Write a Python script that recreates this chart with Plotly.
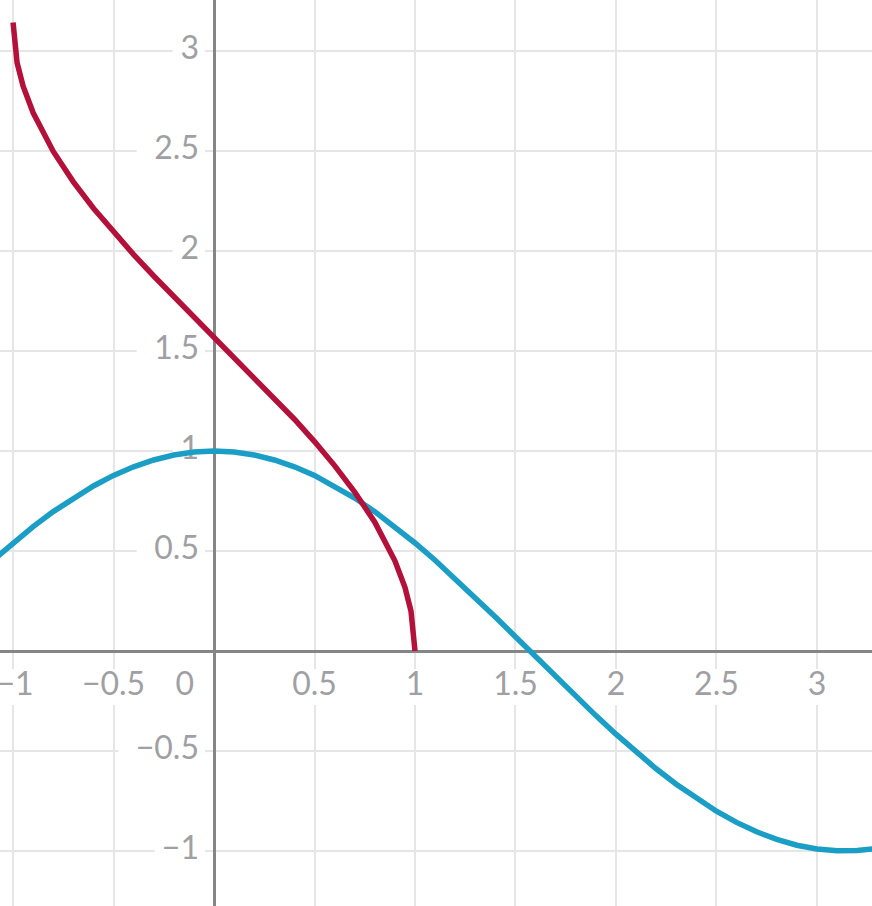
import plotly.graph_objects as go

# cos curve (blue)
cos_x = [-1.1, -1.0, -0.9, -0.8, -0.7, -0.6, -0.5, -0.4, -0.3, -0.2, -0.1, 0.0,
         0.1, 0.2, 0.3, 0.4, 0.5, 0.6, 0.7, 0.8, 0.9, 1.0, 1.1, 1.2, 1.3, 1.4,
         1.5, 1.6, 1.7, 1.8, 1.9, 2.0, 2.1, 2.2, 2.3, 2.4, 2.5, 2.6, 2.7, 2.8,
         2.9, 3.0, 3.1, 3.2, 3.3]
cos_y = [0.454, 0.540, 0.622, 0.697, 0.765, 0.825, 0.878, 0.921, 0.955, 0.980,
         0.995, 1.0, 0.995, 0.980, 0.955, 0.921, 0.878, 0.825, 0.765, 0.697,
         0.622, 0.540, 0.454, 0.362, 0.267, 0.170, 0.071, -0.029, -0.129,
         -0.227, -0.323, -0.416, -0.505, -0.589, -0.666, -0.737, -0.801,
         -0.857, -0.904, -0.942, -0.971, -0.990, -0.999, -0.998, -0.987]

# arccos curve (red)
acos_x = [-1.0, -0.98, -0.95, -0.9, -0.8, -0.7, -0.6, -0.5, -0.4, -0.3, -0.2,
          -0.1, 0.0, 0.1, 0.2, 0.3, 0.4, 0.5, 0.6, 0.7, 0.8, 0.9, 0.95, 0.98, 1.0]
acos_y = [3.142, 2.941, 2.824, 2.691, 2.498, 2.346, 2.214, 2.094, 1.982, 1.875,
          1.772, 1.671, 1.571, 1.471, 1.369, 1.266, 1.159, 1.047, 0.927, 0.795,
          0.644, 0.451, 0.318, 0.200, 0.0]

x_ticks = [-1, -0.5, 0, 0.5, 1, 1.5, 2, 2.5, 3]
x_tick_labels = ["−1", "−0.5", "0", "0.5", "1", "1.5", "2", "2.5", "3"]
y_ticks = [-1, -0.5, 0.5, 1, 1.5, 2, 2.5, 3]
y_tick_labels = ["−1", "−0.5", "0.5", "1", "1.5", "2", "2.5", "3"]

LABEL_COLOR = "#a0a0a4"
FONT = dict(family="Lato, 'Open Sans', sans-serif", size=32, color=LABEL_COLOR)

fig = go.Figure()

# tick label positions (offsets from axes, in data units)
x_lab_y = -0.18
x_lab_x = [(-0.145 if v == 0 else (v + 0.01 if v == -1 else v)) for v in x_ticks]
y_lab_x = -0.075

shapes = []
char_w = 0.09
for xv, t in zip(x_lab_x, x_tick_labels):
    w = len(t) * char_w / 2 + 0.03
    shapes.append(dict(type="rect", layer="between", xref="x", yref="y",
                       x0=xv - w, x1=xv + w, y0=x_lab_y - 0.09, y1=x_lab_y + 0.09,
                       fillcolor="white", line=dict(width=0)))
for yv, t in zip(y_ticks, y_tick_labels):
    w = len(t) * char_w + 0.04
    shapes.append(dict(type="rect", layer="between", xref="x", yref="y",
                       x0=y_lab_x - w, x1=y_lab_x + 0.03, y0=yv - 0.07, y1=yv + 0.07,
                       fillcolor="white", line=dict(width=0)))

fig.add_trace(go.Scatter(x=x_lab_x, y=[x_lab_y] * len(x_ticks), mode="text",
                         text=x_tick_labels, textposition="middle center",
                         textfont=FONT, hoverinfo="skip", showlegend=False))
fig.add_trace(go.Scatter(x=[y_lab_x] * len(y_ticks), y=y_ticks, mode="text",
                         text=y_tick_labels, textposition="middle left",
                         textfont=FONT, hoverinfo="skip", showlegend=False))

fig.add_trace(go.Scatter(x=cos_x, y=cos_y, mode="lines",
                         line=dict(color="#1a9ec6", width=5.5), showlegend=False))
fig.add_trace(go.Scatter(x=acos_x, y=acos_y, mode="lines",
                         line=dict(color="#b3103a", width=5.5), showlegend=False))

axis_common = dict(showticklabels=False, ticks="", dtick=0.5, tick0=0,
                   gridcolor="#e6e6e6", gridwidth=2,
                   zeroline=True, zerolinecolor="#858585", zerolinewidth=3,
                   showline=False, fixedrange=True)

fig.update_layout(
    width=872, height=906,
    margin=dict(l=0, r=0, t=0, b=0),
    paper_bgcolor="white", plot_bgcolor="white",
    xaxis=dict(range=[-1.065, 3.274], **axis_common),
    yaxis=dict(range=[-1.275, 3.255], **axis_common),
    shapes=shapes,
    showlegend=False,
)

fig.write_html("out.html", config={"displayModeBar": False},
               post_script="document.body.style.margin='0';")
